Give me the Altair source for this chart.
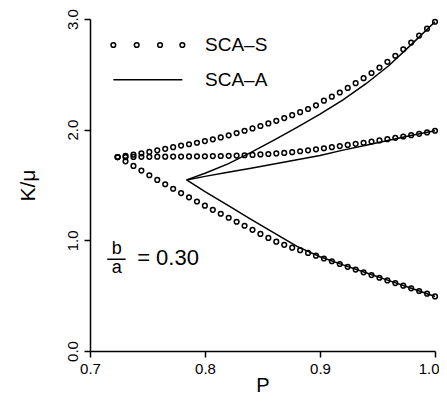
import altair as alt
import pandas as pd

FONT = "Liberation Sans"

# ---- SCA-S (open circles), three branches sampled at the same P values
p_s = [0.7240, 0.7309, 0.7378, 0.7447, 0.7516, 0.7585, 0.7654, 0.7723, 0.7792, 0.7861,
       0.7930, 0.7999, 0.8068, 0.8137, 0.8206, 0.8275, 0.8344, 0.8413, 0.8482, 0.8551,
       0.8620, 0.8689, 0.8758, 0.8827, 0.8896, 0.8965, 0.9034, 0.9103, 0.9172, 0.9241,
       0.9310, 0.9379, 0.9448, 0.9517, 0.9586, 0.9655, 0.9724, 0.9793, 0.9862, 0.9931,
       1.0000]
upper_s = [1.752, 1.763, 1.774, 1.786, 1.799, 1.813, 1.827, 1.842, 1.856, 1.868,
           1.882, 1.897, 1.913, 1.930, 1.949, 1.969, 1.990, 2.011, 2.033, 2.056,
           2.080, 2.105, 2.131, 2.158, 2.187, 2.220, 2.262, 2.298, 2.336, 2.377,
           2.420, 2.465, 2.512, 2.561, 2.613, 2.668, 2.726, 2.787, 2.850, 2.913,
           2.975]
middle_s = [1.752, 1.752, 1.754, 1.755, 1.755, 1.756, 1.756, 1.757, 1.757, 1.758,
            1.759, 1.760, 1.761, 1.762, 1.764, 1.766, 1.769, 1.772, 1.776, 1.780,
            1.785, 1.790, 1.797, 1.805, 1.813, 1.822, 1.832, 1.842, 1.852, 1.862,
            1.872, 1.882, 1.892, 1.903, 1.914, 1.926, 1.938, 1.950, 1.962, 1.975,
            1.990]
lower_s = [1.752, 1.714, 1.672, 1.630, 1.588, 1.546, 1.507, 1.466, 1.427, 1.389,
           1.351, 1.313, 1.276, 1.240, 1.204, 1.168, 1.132, 1.095, 1.058, 1.022,
           0.988, 0.959, 0.934, 0.911, 0.886, 0.861, 0.836, 0.811, 0.786, 0.761,
           0.736, 0.711, 0.686, 0.662, 0.638, 0.614, 0.590, 0.566, 0.542, 0.518,
           0.493]

# ---- SCA-A (solid lines), three branches from a common vertex
p_a = [0.784, 0.80, 0.82, 0.84, 0.86, 0.88, 0.90, 0.92, 0.94, 0.96, 0.98, 1.00]
upper_a = [1.546, 1.606, 1.691, 1.795, 1.905, 2.020, 2.140, 2.270, 2.415, 2.580, 2.775, 2.975]
middle_a = [1.546, 1.578, 1.615, 1.652, 1.690, 1.728, 1.766, 1.815, 1.860, 1.905, 1.950, 1.990]
lower_a = [1.546, 1.440, 1.315, 1.190, 1.068, 0.945, 0.852, 0.778, 0.707, 0.636, 0.565, 0.493]

x_ticks = [0.7, 0.8, 0.9, 1.0]
y_ticks = [0.0, 1.0, 2.0, 3.0]

# ---- legend (in data units)
legend_pts_p = [0.7203, 0.7406, 0.7609, 0.7803]
legend_pts_v = 2.765
legend_line_p = [0.7203, 0.7803]
legend_line_v = 2.450
legend_labels = ["SCA–S", "SCA–A"]
legend_label_p = 0.800
legend_label_v = [2.765, 2.450]

# ---- annotation b/a = 0.30
frac_num = "b"
frac_den = "a"
frac_p = 0.7232
frac_num_v = 0.922
frac_den_v = 0.748
frac_bar_p = [0.7150, 0.7310]
frac_bar_v = 0.829
eq_text = "= 0.30"
eq_p = 0.7410
eq_v = 0.838

# ---- tables
circles = pd.concat([
    pd.DataFrame({"p": p_s, "v": upper_s, "branch": "upper"}),
    pd.DataFrame({"p": p_s, "v": middle_s, "branch": "middle"}),
    pd.DataFrame({"p": p_s, "v": lower_s, "branch": "lower"}),
])
lines = pd.concat([
    pd.DataFrame({"p": p_a, "v": upper_a, "branch": "upper"}),
    pd.DataFrame({"p": p_a, "v": middle_a, "branch": "middle"}),
    pd.DataFrame({"p": p_a, "v": lower_a, "branch": "lower"}),
])
leg_pts = pd.DataFrame({"p": legend_pts_p, "v": [legend_pts_v] * len(legend_pts_p)})
leg_line = pd.DataFrame({"p": [legend_line_p[0]], "p2": [legend_line_p[1]], "v": [legend_line_v]})
leg_txt = pd.DataFrame({"p": [legend_label_p] * 2, "v": legend_label_v, "t": legend_labels})
frac_txt = pd.DataFrame({"p": [frac_p, frac_p], "v": [frac_num_v, frac_den_v], "t": [frac_num, frac_den]})
frac_bar = pd.DataFrame({"p": [frac_bar_p[0]], "p2": [frac_bar_p[1]], "v": [frac_bar_v]})
eq_df = pd.DataFrame({"p": [eq_p], "v": [eq_v], "t": [eq_text]})

X = alt.X("p:Q",
          scale=alt.Scale(domain=[0.7, 1.0], nice=False, zero=False),
          axis=alt.Axis(values=x_ticks, format=".1f", title="P", labelFlush=False,
                        labelAlign=alt.ExprRef(expr="datum.value >= 0.999 ? 'right' : 'center'"),
                        labelOffset=alt.ExprRef(expr="datum.value >= 0.999 ? 4 : 0"),
                        labelPadding=4, titleBaseline="alphabetic", titleY=40,
                        titleFontSize=20))
Y = alt.Y("v:Q",
          scale=alt.Scale(domain=[0, 3], nice=False),
          axis=alt.Axis(values=y_ticks, format=".1f", title="K/μ", labelAngle=270,
                        labelAlign="center", labelBaseline="bottom", labelPadding=4,
                        titlePadding=27))

circ_layer = alt.Chart(circles).mark_point(
    shape="circle", filled=False, size=22, strokeWidth=1.5, color="black", opacity=1
).encode(x=X, y=Y, detail="branch:N")

line_layer = alt.Chart(lines).mark_line(color="black", strokeWidth=1.5).encode(
    x=X, y=Y, detail="branch:N")

leg_pts_layer = alt.Chart(leg_pts).mark_point(
    shape="circle", filled=False, size=22, strokeWidth=1.5, color="black", opacity=1
).encode(x=X, y=Y)
leg_line_layer = alt.Chart(leg_line).mark_rule(color="black", strokeWidth=1.5).encode(
    x=X, x2="p2:Q", y=Y)
leg_txt_layer = alt.Chart(leg_txt).mark_text(
    align="left", baseline="middle", font=FONT, fontSize=19, color="black"
).encode(x=X, y=Y, text="t:N")

frac_txt_layer = alt.Chart(frac_txt).mark_text(
    align="center", baseline="middle", font=FONT, fontSize=18, color="black"
).encode(x=X, y=Y, text="t:N")
frac_bar_layer = alt.Chart(frac_bar).mark_rule(color="black", strokeWidth=1.5).encode(
    x=X, x2="p2:Q", y=Y)
eq_layer = alt.Chart(eq_df).mark_text(
    align="left", baseline="middle", font=FONT, fontSize=22, color="black"
).encode(x=X, y=Y, text="t:N")

chart = alt.layer(
    line_layer, circ_layer, leg_pts_layer, leg_line_layer, leg_txt_layer,
    frac_txt_layer, frac_bar_layer, eq_layer
).properties(
    width=345, height=332,
    padding={"left": 82, "top": 11, "right": 4, "bottom": 43},
    autosize=alt.AutoSizeParams(type="none"),
    background="white",
).configure_view(stroke=None).configure_axis(
    grid=False,
    domainColor="black", domainWidth=1.5,
    tickColor="black", tickWidth=1.5, tickSize=6,
    labelFont=FONT, labelFontSize=15, labelColor="black",
    titleFont=FONT, titleFontSize=21, titleColor="black", titleFontWeight="normal",
)

chart.save("out.html", embed_options={"renderer": "svg", "actions": False})
